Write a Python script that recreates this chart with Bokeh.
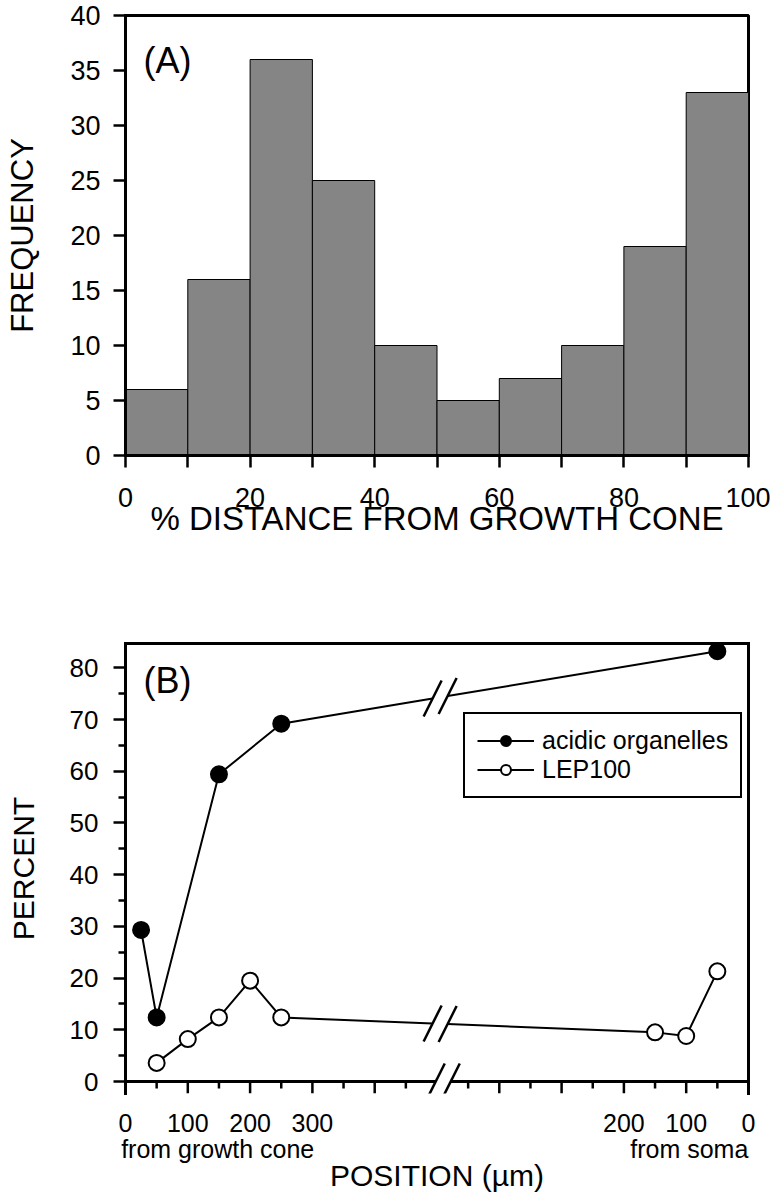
import numpy as np
from bokeh.plotting import figure
from bokeh.layouts import column
from bokeh.models import FixedTicker, LinearAxis, Range1d, Legend, LegendItem, Label, Arrow
from bokeh.embed import file_html
from bokeh.resources import INLINE

FONT = "Liberation Sans"

# ---------------- Panel A data ----------------
bin_edges = [0, 10, 20, 30, 40, 50, 60, 70, 80, 90, 100]
frequency = [6, 16, 36, 25, 10, 5, 7, 10, 19, 33]
a_xticks = [0, 20, 40, 60, 80, 100]
a_xminor = [10, 30, 50, 70, 90]
a_yticks = [0, 5, 10, 15, 20, 25, 30, 35, 40]

# ---------------- Panel B data ----------------
# positions in µm, measured from the growth cone (left part) or from the soma (right part)
acidic_pos_gc = [25, 50, 150, 250]
acidic_val_gc = [29.3, 12.4, 59.4, 69.2]
acidic_pos_soma = [50]
acidic_val_soma = [83.2]
lep_pos_gc = [50, 100, 150, 200, 250]
lep_val_gc = [3.6, 8.2, 12.4, 19.5, 12.4]
lep_pos_soma = [150, 100, 50]
lep_val_soma = [9.5, 8.8, 21.3]
b_yticks = [0, 10, 20, 30, 40, 50, 60, 70, 80]
b_yminor = [5, 15, 25, 35, 45, 55, 65, 75]
gc_major = [0, 100, 200, 300, 400]
gc_minor = [50, 150, 250, 350, 450]
soma_major = [0, 100, 200, 300, 400]
soma_minor = [50, 150, 250, 350, 450]
gc_labels = [0, 100, 200, 300]
soma_labels = [200, 100, 0]

AXIS_LEN = 1000          # combined axis length (growth-cone part + soma part)
def from_soma(d):
    return [AXIS_LEN - v for v in d]

# ---------------- geometry ----------------
W = 770
FRAME_W = 623
B_FRAME_H = 450
B_YMAX = 84.7
B_TICK_PX = 12
B_MINOR_PX = 7
b_ystart = -B_TICK_PX * B_YMAX / (B_FRAME_H - B_TICK_PX)
ppx = FRAME_W / AXIS_LEN
ppy = B_FRAME_H / (B_YMAX - b_ystart)
LINE_BREAK = 505
AXIS_BREAK = 510
GAP = 7.5 / ppx            # half gap between the slashes
SDX = 9 / ppx
SDY = 18 / ppy


def style_axis(ax, tick_out=12, minor_out=0, size="25px", standoff=13):
    ax.axis_line_width = 3
    ax.axis_line_color = "black"
    ax.axis_line_cap = "square"
    ax.major_tick_line_width = 2.5
    ax.major_tick_line_color = "black"
    ax.major_tick_out = tick_out
    ax.major_tick_in = 0
    ax.minor_tick_line_width = 2.5
    ax.minor_tick_line_color = "black"
    ax.minor_tick_out = minor_out
    ax.minor_tick_in = 0
    ax.major_label_text_font = FONT
    ax.major_label_text_font_size = size
    ax.major_label_text_color = "black"
    ax.major_label_standoff = standoff
    ax.axis_label_text_font = FONT
    ax.axis_label_text_font_style = "normal"
    ax.axis_label_text_color = "black"


# ================= Panel A =================
pA = figure(width=W, height=590, x_range=Range1d(0, 100), y_range=Range1d(0, 40),
            output_backend="svg", toolbar_location=None,
            min_border_left=125, min_border_right=W - 125 - FRAME_W, min_border_top=15,
            min_border_bottom=135)
pA.xgrid.visible = False
pA.ygrid.visible = False
pA.outline_line_color = "black"
pA.outline_line_width = 3
pA.background_fill_color = "white"
pA.border_fill_color = "white"

pA.quad(left=bin_edges[:-1], right=bin_edges[1:], bottom=0, top=frequency,
        fill_color="#858585", line_color="black", line_width=1)

xa = pA.xaxis[0]
xa.ticker = FixedTicker(ticks=a_xticks, minor_ticks=a_xminor)
style_axis(xa, tick_out=12, minor_out=12, size="27px", standoff=20)
xa.axis_label = "% DISTANCE FROM GROWTH CONE"
xa.axis_label_text_font_size = "33px"
xa.axis_label_standoff = -10

ya = pA.yaxis[0]
ya.ticker = FixedTicker(ticks=a_yticks)
style_axis(ya, tick_out=12, size="27px", standoff=13)
ya.axis_label = "FREQUENCY"
ya.axis_label_text_font_size = "31px"
ya.axis_label_standoff = 27

pA.add_layout(Label(x=2.9, y=35.9, text="(A)", text_font=FONT, text_font_size="36px",
                    text_baseline="middle", text_color="black"))

# ================= Panel B =================
pB = figure(width=W, height=609, x_range=Range1d(0, AXIS_LEN), y_range=Range1d(b_ystart, B_YMAX),
            x_axis_type=None, output_backend="svg", toolbar_location=None,
            min_border_left=125, min_border_right=W - 125 - FRAME_W, min_border_top=53,
            min_border_bottom=106)
pB.ygrid.visible = False
pB.outline_line_color = None
pB.background_fill_color = "white"
pB.border_fill_color = "white"

yb = pB.yaxis[0]
yb.ticker = FixedTicker(ticks=b_yticks, minor_ticks=b_yminor)
style_axis(yb, tick_out=12, minor_out=7, size="26px", standoff=15)
yb.axis_label = "PERCENT"
yb.axis_label_text_font_size = "30px"
yb.axis_label_standoff = 27

# top and right frame lines
for loc in ("above", "right"):
    bax = LinearAxis(ticker=FixedTicker(ticks=[]))
    style_axis(bax)
    bax.major_label_text_font_size = "0px"
    pB.add_layout(bax, loc)

# manual x axis line with a break
pB.segment(x0=[0, AXIS_BREAK + GAP], y0=[0, 0], x1=[AXIS_BREAK - GAP, AXIS_LEN], y1=[0, 0],
           line_color="black", line_width=3)
maj_u = gc_major + from_soma(soma_major)
min_u = gc_minor + from_soma(soma_minor)
pB.segment(x0=maj_u, y0=[0] * len(maj_u), x1=maj_u, y1=[b_ystart] * len(maj_u),
           line_color="black", line_width=2.5)
pB.segment(x0=min_u, y0=[0] * len(min_u), x1=min_u, y1=[-B_MINOR_PX / ppy] * len(min_u),
           line_color="black", line_width=2.5)
for bx in (AXIS_BREAK - GAP, AXIS_BREAK + GAP):
    pB.add_layout(Arrow(end=None, x_start=bx - SDX, y_start=-SDY, x_end=bx + SDX, y_end=SDY,
                        line_color="black", line_width=2.5))

# tick labels
lab_u = gc_labels + from_soma(soma_labels)
lab_txt = {u: str(v) for u, v in zip(lab_u, gc_labels + soma_labels)}
xl = LinearAxis(ticker=FixedTicker(ticks=lab_u), major_label_overrides=lab_txt)
style_axis(xl, tick_out=0, standoff=20)
xl.axis_line_color = None
xl.major_tick_line_color = None
xl.minor_tick_line_color = None
pB.add_layout(xl, "below")

sub_u = [148, 905]
xs2 = LinearAxis(ticker=FixedTicker(ticks=sub_u),
                 major_label_overrides={148: "from growth cone", 905: "from soma"})
style_axis(xs2, tick_out=0, standoff=0)
xs2.axis_line_color = None
xs2.major_tick_line_color = None
xs2.minor_tick_line_color = None
xs2.axis_label = "POSITION (µm)"
xs2.axis_label_text_font_size = "30px"
xs2.axis_label_standoff = -7
pB.add_layout(xs2, "below")


def split_line(u, y):
    u = np.asarray(u, float)
    y = np.asarray(y, float)
    b0, b1 = LINE_BREAK - GAP, LINE_BREAK + GAP
    yb0 = float(np.interp(b0, u, y))
    yb1 = float(np.interp(b1, u, y))
    left = u < b0
    xs = [list(u[left]) + [b0], [b1] + list(u[~left])]
    ys = [list(y[left]) + [yb0], [yb1] + list(y[~left])]
    return xs, ys, [(b0, yb0), (b1, yb1)]


acid_u = acidic_pos_gc + from_soma(acidic_pos_soma)
acid_y = acidic_val_gc + acidic_val_soma
lep_u = lep_pos_gc + from_soma(lep_pos_soma)
lep_y = lep_val_gc + lep_val_soma
order = np.argsort(lep_u)
lep_u = [lep_u[i] for i in order]
lep_y = [lep_y[i] for i in order]

items = []
for (u, y, filled, name) in ((acid_u, acid_y, True, "acidic organelles"),
                             (lep_u, lep_y, False, "LEP100")):
    xs, ys, brk = split_line(u, y)
    lr = pB.multi_line(xs=xs, ys=ys, line_color="black", line_width=2)
    for (bx, by) in brk:
        pB.segment(x0=[bx - SDX], y0=[by - SDY], x1=[bx + SDX], y1=[by + SDY],
                   line_color="black", line_width=2.5)
    sr = pB.scatter(u, y, size=16, marker="circle", fill_color="black" if filled else "white",
                    line_color="black", line_width=2)
    items.append(LegendItem(label=name, renderers=[lr, sr]))

legend = Legend(items=items, location=(338, 295), margin=0, padding=12, spacing=0,
                glyph_width=57, glyph_height=25, label_height=25, label_standoff=8,
                label_text_font=FONT, label_text_font_size="25px", label_text_color="black",
                border_line_color="black", border_line_alpha=1.0, border_line_width=2.5,
                background_fill_color="white", background_fill_alpha=1.0)
pB.add_layout(legend)

pB.add_layout(Label(x=29, y=77.6, text="(B)", text_font=FONT, text_font_size="36px",
                    text_baseline="middle", text_color="black"))

layout = column(pA, pB, spacing=0)
open("out.html", "w").write(file_html(layout, INLINE))
